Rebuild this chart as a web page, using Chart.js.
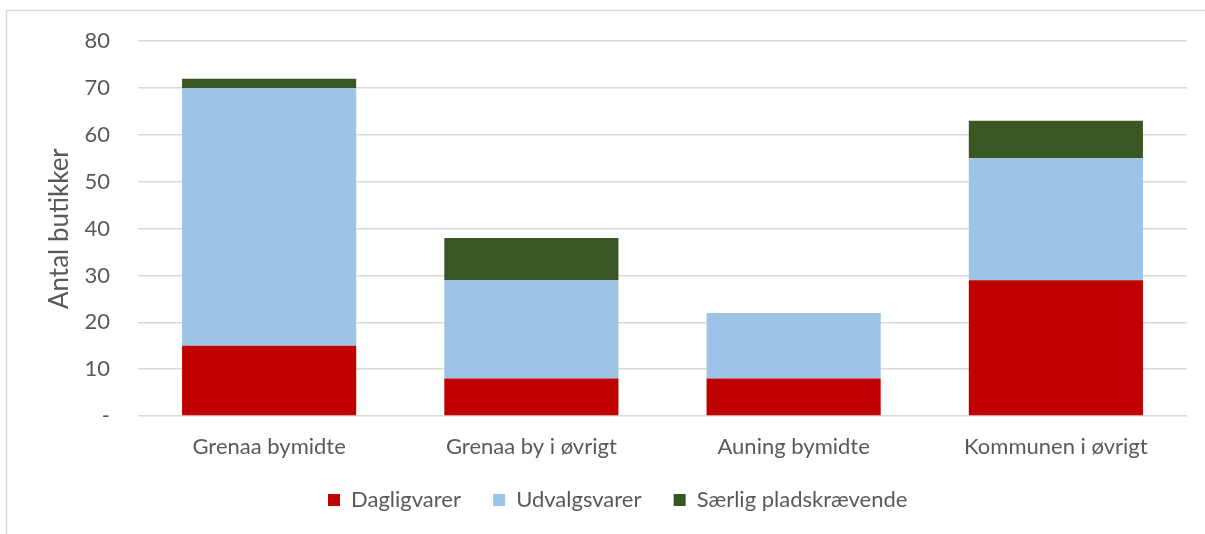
<!DOCTYPE html>
<html>
<head>
<meta charset="utf-8">
<script src="https://cdn.jsdelivr.net/npm/chart.js@4"></script>
<style>
  body { margin: 0; background: #fff; }
  #wrap { width: 1205px; height: 534px; }
</style>
</head>
<body>
<div id="wrap"><canvas id="myChart" width="1205" height="534"></canvas></div>
<script>
const categories = ['Grenaa bymidte', 'Grenaa by i øvrigt', 'Auning bymidte', 'Kommunen i øvrigt'];
const dagligvarer = [15, 8, 8, 29];
const udvalgsvarer = [55, 21, 14, 26];
const saerlig = [2, 9, 0, 8];
const yTicks = [0, 10, 20, 30, 40, 50, 60, 70, 80];

const textColor = '#595959';
const gridColor = '#D9D9D9';

// outer frame of the chart object (only top and left edge are visible)
const framePlugin = {
    id: 'frame',
    beforeInit(chart) {
        // fixed legend height so the plot area stays where it is
        const fit = chart.legend.fit;
        chart.legend.fit = function () {
            fit.call(this);
            this.height = 72;
        };
    },
    beforeDraw(chart) {
        // legend sits a bit right of the canvas centre
        chart.legend.left += 27;
        chart.legend.right += 27;

        const ctx = chart.ctx;
        ctx.save();
        ctx.strokeStyle = gridColor;
        ctx.lineWidth = 1.5;
        ctx.beginPath();
        ctx.moveTo(6.5, 534);
        ctx.lineTo(6.5, 10.5);
        ctx.lineTo(1205, 10.5);
        ctx.stroke();
        ctx.restore();
    }
};

Chart.defaults.font.family = 'Lato, "Open Sans", sans-serif';
Chart.defaults.color = textColor;

const defaultLabels = Chart.defaults.plugins.legend.labels.generateLabels;

var ctx = document.getElementById('myChart').getContext('2d');
new Chart(ctx, {
    type: 'bar',
    data: {
        labels: categories,
        datasets: [{
            label: 'Dagligvarer',
            data: dagligvarer,
            backgroundColor: '#C00000'
        },
        {
            label: 'Udvalgsvarer',
            data: udvalgsvarer,
            backgroundColor: '#9DC3E6'
        },
        {
            label: 'Særlig pladskrævende',
            data: saerlig,
            backgroundColor: '#385723'
        }]
    },
    plugins: [framePlugin],
    options: {
        responsive: false,
        animation: false,
        datasets: {
            bar: { categoryPercentage: 1, barPercentage: 0.664 }
        },
        layout: {
            padding: { left: 0, right: 18, top: 39, bottom: 0 }
        },
        plugins: {
            tooltip: { enabled: false },
            legend: {
                position: 'bottom',
                labels: {
                    boxWidth: 12,
                    boxHeight: 12,
                    padding: 27,
                    font: { size: 22 },
                    color: textColor,
                    // a little extra room after each entry
                    generateLabels: chart => defaultLabels(chart).map(l => ({ ...l, text: l.text + '\u00A0' }))
                }
            }
        },
        scales: {
            x: {
                stacked: true,
                grid: { display: false, drawTicks: false },
                border: { display: false },
                ticks: { padding: 18, font: { size: 22 }, color: textColor, maxRotation: 0 },
                afterFit(scale) { scale.height = 46; }
            },
            y: {
                stacked: true,
                min: 0,
                max: 80,
                afterBuildTicks(scale) {
                    scale.ticks = yTicks.map(v => ({ value: v }));
                },
                grid: { color: gridColor, lineWidth: 1.5, drawTicks: false },
                border: { display: false },
                ticks: {
                    padding: 28,
                    font: { size: 22 },
                    color: textColor,
                    callback: v => v === 0 ? '-' : v
                },
                title: {
                    display: true,
                    text: 'Antal butikker',
                    font: { size: 26 },
                    color: textColor,
                    padding: { top: 44, bottom: 0 }
                },
                afterFit(scale) { scale.width = 138; }
            }
        }
    }
});
</script>
</body>
</html>
